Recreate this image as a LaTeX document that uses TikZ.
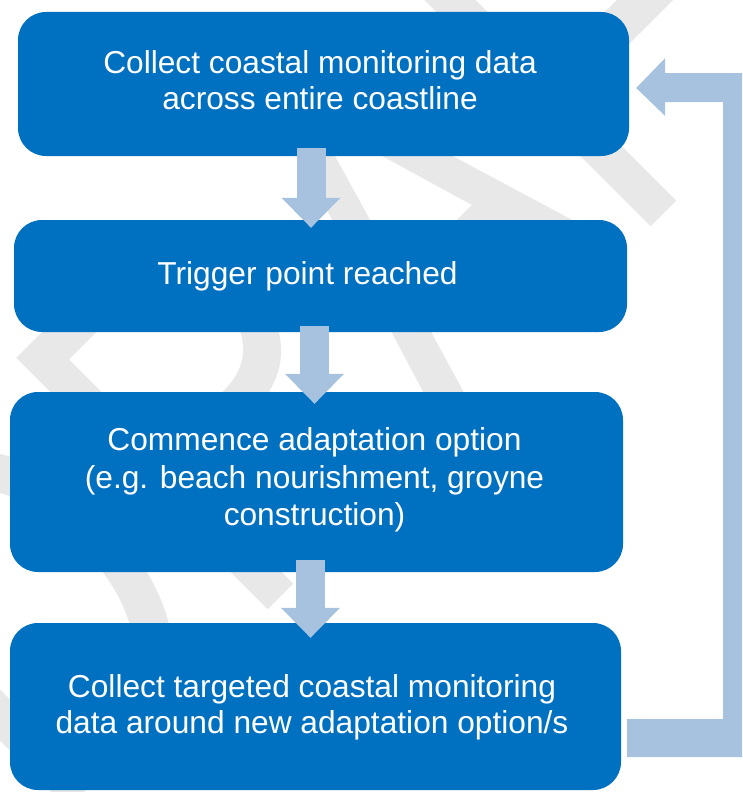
\documentclass[tikz,border=0pt]{standalone}
\usepackage{graphicx}
\usepackage{fontspec}
\setmainfont{Liberation Sans}
\usetikzlibrary{arrows.meta,calc}
\definecolor{boxblue}{HTML}{0070C0}
\definecolor{arrowblue}{HTML}{A6C2DF}
\definecolor{wmgrey}{HTML}{E8E8E8}
\tikzset{
  stepbox/.style={fill=boxblue, draw=none, rounded corners=28pt, inner sep=0pt},
  steptext/.style={text=white, align=center, inner sep=0pt,
    font=\fontsize{31.7}{36.5}\selectfont},
  flowarrow/.style={draw=arrowblue, line width=29pt,
    -{Triangle[length=30pt,width=59pt,line width=0pt]}},
  feedback/.style={fill=arrowblue, draw=none},
  watermark/.style={text=wmgrey, inner sep=0pt, rotate=45,
    font=\fontsize{517}{517}\selectfont}
}
\begin{document}
\begin{tikzpicture}[x=1pt,y=-1pt]
\useasboundingbox (0,0) rectangle (742,792);
\clip (0,0) rectangle (742,792);
\node[watermark] (wm) at (380,246) {\scalebox{0.755}[1]{DRAFT}};
% boxes
\node[stepbox, minimum width=611pt, minimum height=144pt] (b1) at (323.5,84) {};
\node[stepbox, minimum width=613pt, minimum height=112pt] (b2) at (320.5,276) {};
\node[stepbox, minimum width=613pt, minimum height=180pt] (b3) at (316.5,482) {};
\node[stepbox, minimum width=611pt, minimum height=167pt] (b4) at (315.5,706.5) {};
% texts
\node[steptext] (t1) at ($(b1.center)+(-3.5,-4)$)
  {Collect coastal monitoring data\\across entire coastline};
\node[steptext] (t2) at ($(b2.center)+(-13,0)$) {Trigger point reached};
\node[steptext, font=\fontsize{31.7}{37.5}\selectfont] (t3) at ($(b3.center)+(-2,-2)$)
  {Commence adaptation option\\(e.g. beach nourishment, groyne\\construction)};
\node[steptext] (t4) at ($(b4.center)+(-3.5,1)$)
  {Collect targeted coastal monitoring\\data around new adaptation option/s};
% down arrows
\draw[flowarrow] ([xshift=-12.5pt,yshift=8pt]b1.south) -- ([xshift=-9.5pt,yshift=-8pt]b2.north);
\draw[flowarrow] ([xshift=-6pt,yshift=6pt]b2.south) -- ([xshift=-2pt,yshift=-12pt]b3.north);
\draw[flowarrow] ([xshift=-6pt,yshift=12pt]b3.south) -- ([xshift=-5pt,yshift=-15pt]b4.north);
% feedback arrow
\coordinate (fbs) at ([xshift=6pt,yshift=-12.5pt]b4.east);
\coordinate (fbt) at ([xshift=7pt,yshift=-4pt]b1.east);
\fill[feedback] (fbs) -- ++(96,0) |- ($(fbt)+(29,14)$) -- ++(0,14) -- (fbt)
  -- ++(29,-30) -- ++(0,15) -- ++(130,0) -- ($(fbs)+(130,38)$) -- ($(fbs)+(0,38)$) -- cycle;
\end{tikzpicture}
\end{document}
